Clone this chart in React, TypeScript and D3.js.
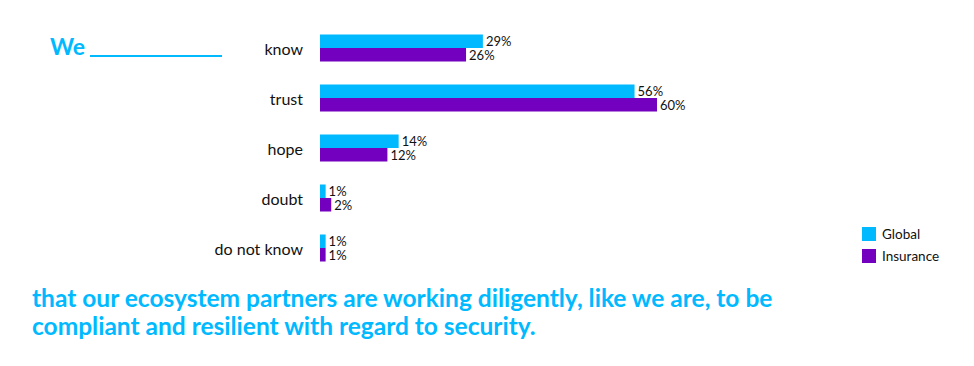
import React from "react";
import * as d3 from "d3";

const categories = ["know", "trust", "hope", "doubt", "do not know"];
const globalValues = [29, 56, 14, 1, 1];
const insuranceValues = [26, 60, 12, 2, 1];
const seriesNames = ["Global", "Insurance"];
const seriesColors = ["#00B9FF", "#7300BF"];

const W = 974;
const H = 366;
const FONT = "Lato, 'Open Sans', sans-serif";

export default function App() {
  const x = d3.scaleLinear().domain([0, 60]).range([320, 657]);
  const y = d3.scaleBand<string>().domain(categories).range([23, 273]).paddingInner(0.46).paddingOuter(0.23);
  const inner = d3.scaleBand<string>().domain(seriesNames).range([0, y.bandwidth()]);
  const series = [globalValues, insuranceValues];

  return (
    <svg width={W} height={H} style={{ position: "absolute", left: 0, top: 0, background: "#fff" }} fontFamily={FONT}>
      <text x={50} y={55} fontSize={23} fontWeight={700} fill="#00B9FF">We</text>
      <line x1={90} x2={222} y1={56} y2={56} stroke="#00B9FF" strokeWidth={2} />

      {categories.map((c) => (
        <text key={c} x={303} y={(y(c) ?? 0) + y.bandwidth() / 2} textAnchor="end" dominantBaseline="central" fontSize={16} fill="#111">
          {c}
        </text>
      ))}

      {series.map((vals, si) =>
        vals.map((v, i) => {
          const c = categories[i];
          const y0 = (y(c) ?? 0) + (inner(seriesNames[si]) ?? 0);
          return (
            <g key={si + "-" + i}>
              <rect x={x(0)} y={y0} width={x(v) - x(0)} height={inner.bandwidth()} fill={seriesColors[si]} />
              <text x={x(v) + 3} y={y0 + inner.bandwidth() / 2} dominantBaseline="central" fontSize={13} fill="#111">
                {v}%
              </text>
            </g>
          );
        })
      )}

      {seriesNames.map((s, i) => (
        <g key={s} transform={`translate(862, ${227 + i * 22})`}>
          <rect width={14} height={14} fill={seriesColors[i]} />
          <text x={20} y={7} dominantBaseline="central" fontSize={13.5} fill="#111">{s}</text>
        </g>
      ))}

      <text x={32} y={307} fontSize={24.5} fontWeight={700} fill="#00B9FF">
        that our ecosystem partners are working diligently, like we are, to be
      </text>
      <text x={32} y={335} fontSize={24.5} fontWeight={700} fill="#00B9FF">
        compliant and resilient with regard to security.
      </text>
    </svg>
  );
}
